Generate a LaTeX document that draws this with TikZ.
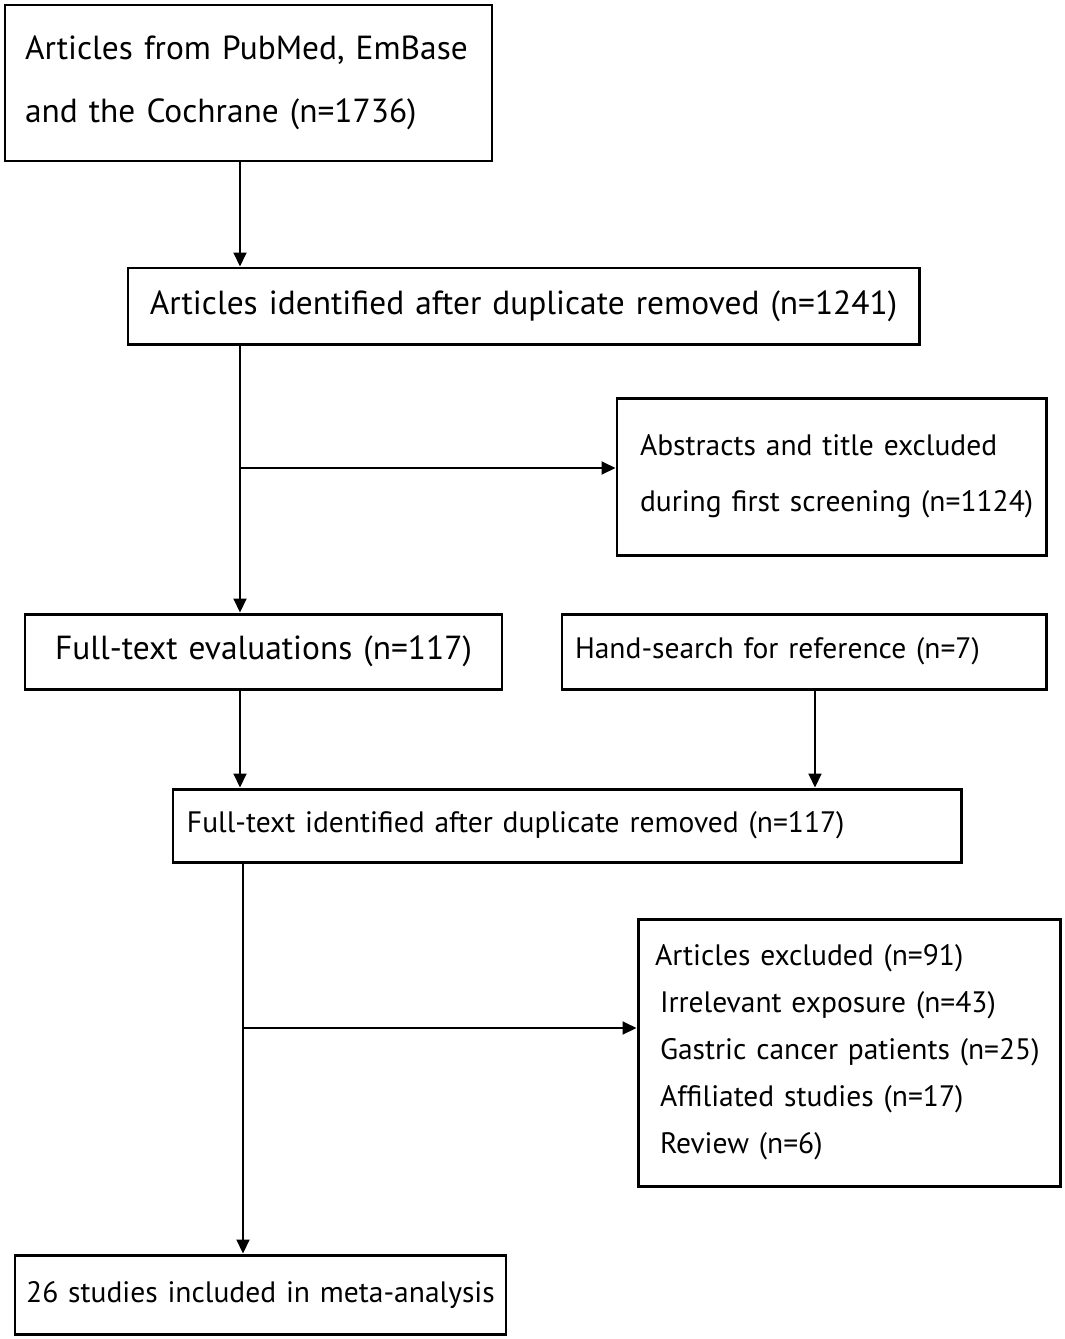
\documentclass[tikz,border=0pt]{standalone}
\usepackage{fontspec}
\setmainfont{PT Sans}
\usetikzlibrary{arrows.meta}

\begin{document}
\begin{tikzpicture}[box/.style={draw,line width=0.85pt,inner xsep=0.05cm,inner ysep=0pt,align=left},
    big/.style={font=\fontsize{9.5}{11.4}\selectfont},
    small/.style={font=\fontsize{8.4}{10}\selectfont},
    pad/.style={execute at begin node={\leftskip=#1\relax}},
    arr/.style={-{Triangle[length=1.4mm,width=1.3mm]},line width=0.55pt}]
    \useasboundingbox (0,0) rectangle (10.65,-13.39);

    %search
    \node[box,pad=0.15cm,text width=4.77cm,minimum height=1.56cm,font=\fontsize{9.5}{17.9}\selectfont]
        (search) at (2.485,-0.83) {Articles from PubMed, EmBase\\and the Cochrane (n=1736)};

    %duplicates
    \node[box,big,align=center,text width=7.81cm,minimum height=0.76cm]
        (dedup) at (5.235,-3.06) {Articles identified after duplicate removed (n=1241)};

    %first screening
    \node[box,pad=0.18cm,text width=4.19cm,minimum height=1.57cm,font=\fontsize{8.4}{15.9}\selectfont]
        (screen) at (8.315,-4.765) {Abstracts and title excluded\\during first screening (n=1124)};

    %full text
    \node[box,big,align=center,text width=4.67cm,minimum height=0.75cm]
        (fulltext) at (2.635,-6.515) {Full-text evaluations (n=117)};
    \node[box,small,pad=0.08cm,text width=4.74cm,minimum height=0.75cm]
        (hand) at (8.04,-6.515) {Hand-search for reference (n=7)};
    \node[box,small,pad=0.09cm,text width=7.78cm,minimum height=0.73cm]
        (fulldedup) at (5.67,-8.255) {Full-text identified after duplicate removed (n=117)};

    %excluded
    \node[box,pad=0.12cm,text width=4.12cm,minimum height=2.67cm,font=\fontsize{8.4}{13.4}\selectfont]
        (excluded) at (8.49,-10.525) {Articles excluded (n=91)\\
        \hspace*{0.5mm}Irrelevant exposure (n=43)\\
        \hspace*{0.5mm}Gastric cancer patients (n=25)\\
        \hspace*{0.5mm}Affiliated studies (n=17)\\
        \hspace*{0.5mm}Review (n=6)};

    %included
    \node[box,small,align=center,text width=4.81cm,minimum height=0.79cm]
        (included) at (2.605,-12.945) {26 studies included in meta-analysis};

    %arrows
    \coordinate (left col) at (2.40,0);
    \coordinate (low col) at (2.43,0);
    \coordinate (hand col) at (8.15,0);
    \coordinate (split1) at (2.40,-4.68);
    \coordinate (split2) at (2.43,-10.28);
    \draw[arr] (search.south -| left col) -- (dedup.north -| left col);
    \draw[arr] (dedup.south -| left col) -- (fulltext.north -| left col);
    \draw[arr] (split1) -- (split1 -| screen.west);
    \draw[arr] (fulltext.south -| left col) -- (fulldedup.north -| left col);
    \draw[arr] (hand.south -| hand col) -- (fulldedup.north -| hand col);
    \draw[arr] (fulldedup.south -| low col) -- (included.north -| low col);
    \draw[arr] (split2) -- (split2 -| excluded.west);
\end{tikzpicture}
\end{document}
